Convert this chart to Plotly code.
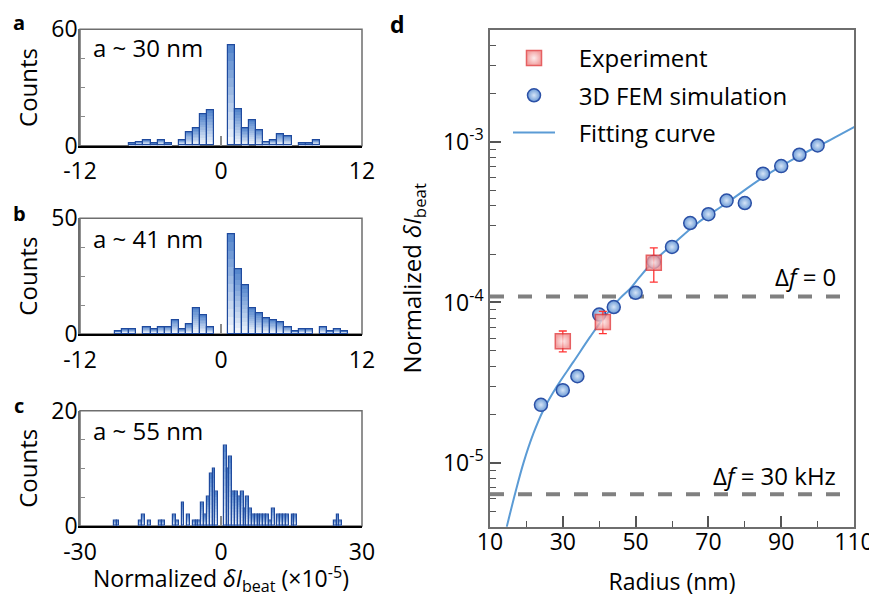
import plotly.graph_objects as go
import math

# ---------------- data ----------------
BIN = 0.6  # histogram bin width (x1e-5)

# panel a (a ~ 30 nm): left bin edges and counts
a_left = [-7.8, -7.2, -6.6, -6.0, -5.4, -4.8, -3.6, -3.0, -2.4, -1.8, -1.2,
          0.6, 1.2, 1.8, 2.4, 3.0, 3.6, 4.2, 4.8, 5.4, 6.6, 7.2, 7.8]
a_counts = [1, 2, 3, 1, 3, 1, 3, 7, 9, 16, 18,
            52, 19, 9, 13, 8, 2, 3, 6, 5, 1, 1, 3]

# panel b (a ~ 41 nm)
b_left = [-9.0, -8.4, -7.8, -6.6, -6.0, -5.4, -4.8, -4.2, -3.6, -3.0, -2.4, -1.8, -1.2,
          0.6, 1.2, 1.8, 2.4, 3.0, 3.6, 4.2, 4.8, 5.4, 6.0, 6.6, 7.2,
          8.4, 9.0, 9.6, 10.2]
b_counts = [1, 2, 2, 3, 2, 3, 3, 6, 2, 4, 11, 8, 3,
            43, 28, 21, 11, 9, 7, 6, 5, 3, 1, 2, 2,
            3, 1, 2, 1]

# panel c (a ~ 55 nm)
c_left = [-22.8, -22.2, -17.4, -16.8, -15.6, -13.2, -12.6, -10.2, -9.6, -8.4,
          -7.2, -6.0, -5.4, -4.8, -4.2, -3.6, -3.0, -2.4, -1.8, -1.2,
          0.6, 1.2, 1.8, 2.4, 3.0, 3.6, 4.2, 4.8, 5.4, 6.0,
          6.6, 7.2, 7.8, 8.4, 9.0, 9.6, 10.2, 10.8, 12.0, 12.6,
          13.2, 13.8, 15.0, 15.6, 24.0, 24.6, 25.2]
c_counts = [1, 1, 1, 2, 1, 1, 1, 2, 1, 4,
            2, 1, 1, 1, 4, 2, 5, 9, 10, 6,
            14, 10, 12, 6, 6, 5, 6, 3, 5, 3,
            2, 2, 2, 2, 2, 2, 1, 3, 2, 2,
            2, 2, 2, 2, 1, 2, 1]

hist_labels = ["a ~ 30 nm", "a ~ 41 nm", "a ~ 55 nm"]

# panel d
fem_r = [24, 30, 34, 40, 44, 50, 55, 60, 65, 70, 75, 80, 85, 90, 95, 100]
fem_v = [2.30e-5, 2.84e-5, 3.47e-5, 8.41e-5, 9.37e-5, 1.15e-4, 1.79e-4, 2.22e-4,
         3.13e-4, 3.55e-4, 4.32e-4, 4.17e-4, 6.35e-4, 7.09e-4, 8.34e-4, 9.53e-4]
exp_r = [30, 41, 55]
exp_v = [5.73e-5, 7.55e-5, 1.77e-4]
exp_hi = [6.64e-5, 8.79e-5, 2.19e-4]
exp_lo = [4.92e-5, 6.40e-5, 1.34e-4]
fit_r = [14.6, 16.9, 19.2, 21.9, 24.65, 28.3, 32.9, 37.5, 41.1, 45.7, 48.5, 51.2,
         54.9, 59.9, 66.8, 75.0, 85.1, 95.2, 103.4, 110.3]
fit_v = [3.99e-6, 6.44e-6, 1.0e-5, 1.52e-5, 2.13e-5, 2.98e-5, 4.26e-5, 6.1e-5,
         7.94e-5, 1.06e-4, 1.22e-4, 1.45e-4, 1.80e-4, 2.27e-4, 3.10e-4, 4.17e-4,
         6.05e-4, 8.26e-4, 1.03e-3, 1.25e-3]
df0_level = 1.09e-4
df30_level = 6.38e-6

series_names = ["Experiment", "3D FEM simulation", "Fitting curve"]

d_xticks = [10, 30, 50, 70, 90, 110]
d_xminor = [20, 40, 60, 80, 100]
d_yticks = [1e-5, 1e-4, 1e-3]
d_ytext = ["10<sup>-5</sup>", "10<sup>-4</sup>", "10<sup>-3</sup>"]
d_yminor = [4e-6, 5e-6, 6e-6, 7e-6, 8e-6, 9e-6,
            2e-5, 3e-5, 4e-5, 5e-5, 6e-5, 7e-5, 8e-5, 9e-5,
            2e-4, 3e-4, 4e-4, 5e-4, 6e-4, 7e-4, 8e-4, 9e-4,
            2e-3, 3e-3, 4e-3]

# ---------------- style ----------------
# the page body has an 8px margin, so the figure is drawn offset by (8, 8)
OX, OY = 8, 8
FW, FH = 877 - OX, 597 - OY
FONT = "Open Sans"
TOP = (86, 135, 205)
BOT = (240, 245, 252)
EDGE = "#1f4a9e"
FRAME = "#6e6e6e"
PAD = "\u00a0\u00a0\u00a0"  # gap between legend key and legend text

def px(x):
    return (x - OX) / FW

def py(y):
    return 1 - (y - OY) / FH

def mix(c1, c2, t):
    return "rgb(%d,%d,%d)" % tuple(round(c1[i] + (c2[i] - c1[i]) * t) for i in range(3))

fig = go.Figure()

panels = [
    (a_left, a_counts, "x", "y"),
    (b_left, b_counts, "x2", "y2"),
    (c_left, c_counts, "x3", "y3"),
]
NSTEP = 12
for lefts, counts, xa, ya in panels:
    centers = [l + BIN / 2 for l in lefts]
    for k in range(NSTEP):
        frac = (NSTEP - k) / NSTEP
        fig.add_trace(go.Bar(x=centers, y=[c * frac for c in counts], width=BIN,
                             marker=dict(color=mix(TOP, BOT, k / (NSTEP - 1)), line=dict(width=0)),
                             xaxis=xa, yaxis=ya, showlegend=False, hoverinfo="skip"))
    fig.add_trace(go.Bar(x=centers, y=counts, width=BIN,
                         marker=dict(color="rgba(0,0,0,0)", line=dict(color=EDGE, width=1.2)),
                         xaxis=xa, yaxis=ya, showlegend=False))

# panel d traces
for lvl in (df0_level, df30_level):
    fig.add_trace(go.Scatter(x=[10, 110], y=[lvl, lvl], mode="lines",
                             line=dict(color="#808080", width=4, dash="14px,14px"),
                             xaxis="x4", yaxis="y4", showlegend=False, hoverinfo="skip"))

fig.add_trace(go.Scatter(x=fit_r, y=fit_v, mode="lines", line=dict(color="#5b9bd5", width=2, shape="spline"),
                         name=PAD + series_names[2], legendgroup="g3", legendrank=3, xaxis="x4", yaxis="y4"))
fig.add_trace(go.Scatter(x=fem_r, y=fem_v, mode="markers", name=PAD + series_names[1],
                         legendgroup="g2", legendrank=2,
                         marker=dict(symbol="circle", size=13, color="#6b9ad6",
                                     gradient=dict(type="radial", color="#d6e5f7"),
                                     line=dict(color="#2b50a6", width=1.5)),
                         xaxis="x4", yaxis="y4"))
fig.add_trace(go.Scatter(x=exp_r, y=exp_v, mode="markers", name=PAD + series_names[0],
                         legendgroup="g1", legendrank=1,
                         marker=dict(symbol="square", size=15, color="#f08c8c",
                                     gradient=dict(type="radial", color="#fde8e8"),
                                     opacity=0.8, line=dict(color="#e0393b", width=1.5)),
                         error_y=dict(type="data", symmetric=False,
                                      array=[h - v for h, v in zip(exp_hi, exp_v)],
                                      arrayminus=[v - l for l, v in zip(exp_lo, exp_v)],
                                      color="#ff3333", thickness=1.3, width=4),
                         xaxis="x4", yaxis="y4"))

tickfont = dict(family=FONT, size=23, color="black")

def hist_axes(xrange_, xticks, yrange_, yticks, yminor, xdom, ydom, anchor_x, anchor_y):
    xa = dict(domain=xdom, range=xrange_, anchor=anchor_y, showline=True, linecolor="black", linewidth=2,
              ticks="inside", tickvals=xticks, ticktext=[str(t) for t in xticks], ticklen=10,
              tickcolor="#8a8a8a", tickwidth=1.5, showgrid=False, zeroline=False, tickfont=tickfont,
              ticklabelstandoff=4, automargin=False, fixedrange=True)
    ya = dict(domain=ydom, range=yrange_, anchor=anchor_x, showline=True, linecolor=FRAME, linewidth=1.5,
              ticks="", tickvals=yticks, ticktext=[str(t) for t in yticks], showgrid=False, zeroline=False,
              tickfont=tickfont, ticklabelstandoff=-4,
              minor=dict(ticks="inside", tickvals=yminor, ticklen=5, tickcolor="#8a8a8a", tickwidth=1),
              title=dict(text="Counts", font=dict(family=FONT, size=24, color="black"), standoff=7),
              automargin=False, fixedrange=True)
    return xa, ya

xdom = [px(80), px(362)]
xa1, ya1 = hist_axes([-12, 12], [-12, 0, 12], [0, 60], [0, 60], [15, 30, 45],
                     xdom, [py(145.7), py(29.3)], "x", "y")
xa2, ya2 = hist_axes([-12, 12], [-12, 0, 12], [0, 50], [0, 50], [12.5, 25, 37.5],
                     xdom, [py(334), py(218.3)], "x2", "y2")
xa3, ya3 = hist_axes([-30, 30], [-30, 0, 30], [0, 20], [0, 20], [5, 10, 15],
                     xdom, [py(526), py(410.7)], "x3", "y3")
xa3["title"] = dict(text="Normalized <i>δI</i><sub>beat</sub> (×10<sup>-5</sup>)",
                    font=dict(family=FONT, size=23, color="black"), standoff=8)

xa4 = dict(domain=[px(490), px(854)], range=[10, 110], anchor="y4", showline=True, linecolor=FRAME,
           linewidth=1.5, mirror=True, ticks="inside", tickvals=d_xticks, ticklen=11, tickwidth=1.5,
           tickcolor="#555555", showgrid=False, zeroline=False, tickfont=tickfont, ticklabelstandoff=-6,
           minor=dict(ticks="inside", tickvals=d_xminor, ticklen=6, tickwidth=1.2, tickcolor="#555555"),
           title=dict(text="Radius (nm)", font=dict(family=FONT, size=23, color="black"), standoff=19),
           automargin=False, fixedrange=True)
ya4 = dict(domain=[py(526.7), py(30)], type="log", range=[math.log10(4e-6), math.log10(5e-3)],
           anchor="x4", showline=True, linecolor=FRAME, linewidth=1.5, mirror=True, ticks="inside",
           tickvals=d_yticks, ticktext=d_ytext, ticklen=11, tickwidth=1.5, tickcolor="#555555",
           showgrid=False, zeroline=False, tickfont=tickfont,
           minor=dict(ticks="inside", tickvals=d_yminor, ticklen=6, tickwidth=1.2, tickcolor="#555555"),
           title=dict(text="Normalized <i>δI</i><sub>beat</sub>", font=dict(family=FONT, size=24, color="black"),
                      standoff=15),
           automargin=False, fixedrange=True)

annotations = []
for lbl, yc in zip(["a", "b", "c"], [22, 214, 405]):
    annotations.append(dict(text="<b>%s</b>" % lbl, x=px(19), y=py(yc), xref="paper", yref="paper",
                            showarrow=False, xanchor="center", yanchor="middle",
                            font=dict(family=FONT, size=20, color="black")))
annotations.append(dict(text="<b>d</b>", x=px(397), y=py(24), xref="paper", yref="paper", showarrow=False,
                        xanchor="center", yanchor="middle", font=dict(family=FONT, size=23, color="black")))
for lbl, yc in zip(hist_labels, [48, 238, 430]):
    annotations.append(dict(text=lbl, x=px(91), y=py(yc), xref="paper", yref="paper", showarrow=False,
                            xanchor="left", yanchor="middle", font=dict(family=FONT, size=24, color="black")))
annotations.append(dict(text="Δ<i>f</i> = 0", x=px(838), y=py(276), xref="paper", yref="paper",
                        showarrow=False, xanchor="right", yanchor="middle",
                        font=dict(family=FONT, size=24, color="black")))
annotations.append(dict(text="Δ<i>f</i> = 30 kHz", x=px(838), y=py(475), xref="paper", yref="paper",
                        showarrow=False, xanchor="right", yanchor="middle",
                        font=dict(family=FONT, size=24, color="black")))

shapes = []
for xr, yr in (("x", "y"), ("x2", "y2"), ("x3", "y3")):
    shapes.append(dict(type="rect", xref=xr + " domain", yref=yr + " domain", x0=0, x1=1, y0=0, y1=1,
                       line=dict(color=FRAME, width=1.5), layer="below"))

fig.update_layout(
    template="none",
    width=FW, height=FH, margin=dict(l=0, r=0, t=0, b=0, pad=0), autosize=False,
    paper_bgcolor="white", plot_bgcolor="rgba(0,0,0,0)",
    barmode="overlay", bargap=0,
    font=dict(family=FONT, color="black"),
    xaxis=xa1, yaxis=ya1, xaxis2=xa2, yaxis2=ya2, xaxis3=xa3, yaxis3=ya3, xaxis4=xa4, yaxis4=ya4,
    annotations=annotations, shapes=shapes,
    legend=dict(x=px(508), y=py(36), xanchor="left", yanchor="top", bgcolor="rgba(0,0,0,0)",
                font=dict(family=FONT, size=24, color="black"), traceorder="grouped",
                tracegroupgap=3, itemwidth=42),
    showlegend=True,
)

fig.write_html("out.html")
